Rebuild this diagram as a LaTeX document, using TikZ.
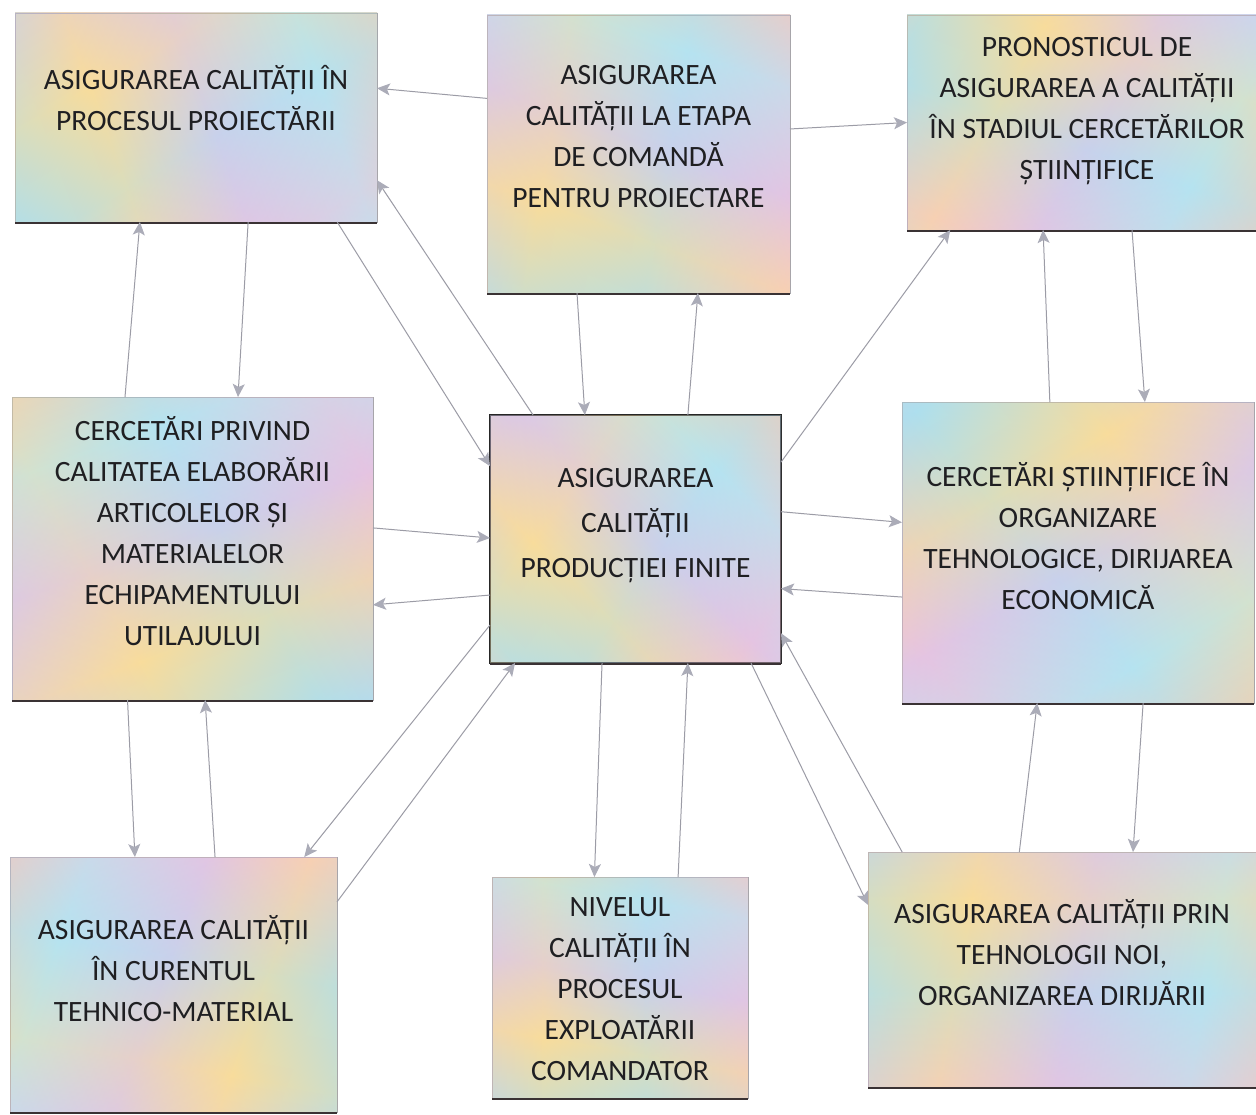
\documentclass[tikz,border=0pt]{standalone}
\usepackage{fontspec}
\setmainfont{Carlito}
\usetikzlibrary{calc,arrows.meta}
\definecolor{iPink}{HTML}{F5BED6}
\definecolor{iBlue}{HTML}{AEDFEE}
\definecolor{iYel}{HTML}{F8DC9C}
\definecolor{iLav}{HTML}{DAC8EA}
\definecolor{iCyan}{HTML}{BAE6F2}
\definecolor{iPeach}{HTML}{F7CCB2}
\definecolor{boxline}{HTML}{A4A4A8}
\definecolor{shadowcol}{HTML}{3A3234}
\definecolor{conncol}{HTML}{9C9CA6}
\definecolor{headcol}{HTML}{ABACB8}
\definecolor{txtcol}{HTML}{1F1F22}
\pgfdeclarehorizontalshading{irisA}{100bp}{color(0bp)=(iPink); color(18bp)=(iBlue); color(36bp)=(iYel); color(52bp)=(iLav); color(70bp)=(iCyan); color(86bp)=(iPeach); color(100bp)=(iPink)}
\pgfdeclarehorizontalshading{irisB}{100bp}{color(0bp)=(iCyan); color(22bp)=(iPink); color(45bp)=(iBlue); color(65bp)=(iYel); color(82bp)=(iLav); color(100bp)=(iBlue)}
\tikzset{
  box/.style={rectangle, draw=boxline, line width=0.7pt, inner sep=0pt, outer sep=0pt,
    shading=irisA, shading angle=#1,
    postaction={shade, shading=irisB, shading angle=#1+100, opacity=0.4}},
  txt/.style={align=center, text=txtcol, inner sep=0pt,
    font=\fontsize{29.5}{41}\selectfont},
  shadowline/.style={draw=shadowcol, line width=2.6pt},
  conn/.style={draw=conncol, line width=1pt,
    -{Stealth[length=13pt, width=12pt, inset=3pt, color=headcol]}}
}
\begin{document}
\begin{tikzpicture}[x=1pt,y=-1pt]
\useasboundingbox (0,0) rectangle (1256,1115);
\clip (0,0) rectangle (1256,1115);
\fill[white] (0,0) rectangle (1256,1115);

% boxes
\node[box=20, minimum width=362pt, minimum height=209pt] (b1) at (196,117.5) {};
\node[box=70, minimum width=303pt, minimum height=278pt] (b2) at (638.5,154) {};
\node[box=-30, minimum width=360pt, minimum height=215pt] (b3) at (1087,122.5) {};
\node[box=110, minimum width=361pt, minimum height=303pt] (b4) at (192.5,548.5) {};
\node[box=45, minimum width=291pt, minimum height=248pt, draw=black!85, line width=1.6pt] (b5) at (635.5,539) {};
\node[box=-60, minimum width=352pt, minimum height=301pt] (b6) at (1078,552.5) {};
\node[box=160, minimum width=327pt, minimum height=255pt] (b7) at (173.5,984.5) {};
\node[box=80, minimum width=256pt, minimum height=221pt] (b8) at (620,987.5) {};
\node[box=-10, minimum width=388pt, minimum height=235pt] (b9) at (1062,969.5) {};

% bottom shadows
\foreach \b in {b1,b2,b3,b4,b5,b6,b7,b8,b9}
  \draw[shadowline] ($(\b.south west)+(0,1)$) -- ($(\b.south east)+(0,1)$);

% texts
\node[txt] (t1) at ($(b1.center)+(0,-19)$) {ASIGURAREA CALITĂȚII ÎN\\PROCESUL PROIECTĂRII};
\node[txt] (t2) at ($(b2.center)+(0,-17)$) {ASIGURAREA\\CALITĂȚII LA ETAPA\\DE COMANDĂ\\PENTRU PROIECTARE};
\node[txt] (t3) at ($(b3.center)+(0,-11)$) {PRONOSTICUL DE\\ASIGURAREA A CALITĂȚII\\ÎN STADIUL CERCETĂRILOR\\ȘTIINȚIFICE};
\node[txt] (t4) at ($(b4.center)+(0,-17)$) {CERCETĂRI PRIVIND\\CALITATEA ELABORĂRII\\ARTICOLELOR ȘI\\MATERIALELOR\\ECHIPAMENTULUI\\UTILAJULUI};
\node[txt] (t5) at ($(b5.center)+(0,-13)$) {ASIGURAREA\\[4pt]CALITĂȚII\\[4pt]PRODUCȚIEI FINITE};
\node[txt] (t6) at ($(b6.center)+(0,-16)$) {CERCETĂRI ȘTIINȚIFICE ÎN\\ORGANIZARE\\TEHNOLOGICE, DIRIJAREA\\ECONOMICĂ};
\node[txt] (t7) at ($(b7.center)+(0,-16)$) {ASIGURAREA CALITĂȚII\\ÎN CURENTUL\\TEHNICO-MATERIAL};
\node[txt] (t8) at ($(b8.center)+(0,2)$) {NIVELUL\\CALITĂȚII ÎN\\PROCESUL\\EXPLOATĂRII\\COMANDATOR};
\node[txt] (t9) at ($(b9.center)+(0,-17)$) {ASIGURAREA CALITĂȚII PRIN\\TEHNOLOGII NOI,\\ORGANIZAREA DIRIJĂRII};

% connectors
\draw[conn] ($(b2.north west)!.30!(b2.south west)$) -- ($(b1.north east)!.36!(b1.south east)$);
\draw[conn] ($(b2.north east)!.41!(b2.south east)$) -- ($(b3.north west)!.50!(b3.south west)$);
\draw[conn] ($(b4.north west)!.313!(b4.north east)$) -- ($(b1.south west)!.345!(b1.south east)$);
\draw[conn] ($(b1.south west)!.644!(b1.south east)$) -- ($(b4.north west)!.626!(b4.north east)$);
\draw[conn] ($(b1.south west)!.89!(b1.south east)$) -- ($(b5.north west)!.206!(b5.south west)$);
\draw[conn] ($(b5.north west)!.148!(b5.north east)$) -- ($(b1.north east)!.80!(b1.south east)$);
\draw[conn] ($(b2.south west)!.297!(b2.south east)$) -- ($(b5.north west)!.326!(b5.north east)$);
\draw[conn] ($(b5.north west)!.68!(b5.north east)$) -- ($(b2.south west)!.696!(b2.south east)$);
\draw[conn] ($(b5.north east)!.19!(b5.south east)$) -- ($(b3.south west)!.12!(b3.south east)$);
\draw[conn] ($(b6.north west)!.42!(b6.north east)$) -- ($(b3.south west)!.378!(b3.south east)$);
\draw[conn] ($(b3.south west)!.625!(b3.south east)$) -- ($(b6.north west)!.69!(b6.north east)$);
\draw[conn] ($(b4.north east)!.432!(b4.south east)$) -- ($(b5.north west)!.496!(b5.south west)$);
\draw[conn] ($(b5.north west)!.726!(b5.south west)$) -- ($(b4.north east)!.686!(b4.south east)$);
\draw[conn] ($(b5.north east)!.39!(b5.south east)$) -- ($(b6.north west)!.40!(b6.south west)$);
\draw[conn] ($(b6.north west)!.648!(b6.south west)$) -- ($(b5.north east)!.70!(b5.south east)$);
\draw[conn] ($(b4.south west)!.32!(b4.south east)$) -- ($(b7.north west)!.382!(b7.north east)$);
\draw[conn] ($(b7.north west)!.627!(b7.north east)$) -- ($(b4.south west)!.535!(b4.south east)$);
\draw[conn] ($(b5.north west)!.847!(b5.south west)$) -- ($(b7.north west)!.90!(b7.north east)$);
\draw[conn] ($(b7.north east)!.176!(b7.south east)$) -- ($(b5.south west)!.086!(b5.south east)$);
\draw[conn] ($(b5.south west)!.385!(b5.south east)$) -- ($(b8.north west)!.40!(b8.north east)$);
\draw[conn] ($(b8.north west)!.727!(b8.north east)$) -- ($(b5.south west)!.68!(b5.south east)$);
\draw[conn] ($(b5.south west)!.897!(b5.south east)$) -- ($(b9.north west)!.225!(b9.south west)$);
\draw[conn] ($(b9.north west)!.088!(b9.north east)$) -- ($(b5.north east)!.88!(b5.south east)$);
\draw[conn] ($(b9.north west)!.39!(b9.north east)$) -- ($(b6.south west)!.384!(b6.south east)$);
\draw[conn] ($(b6.south west)!.685!(b6.south east)$) -- ($(b9.north west)!.683!(b9.north east)$);
\end{tikzpicture}
\end{document}
